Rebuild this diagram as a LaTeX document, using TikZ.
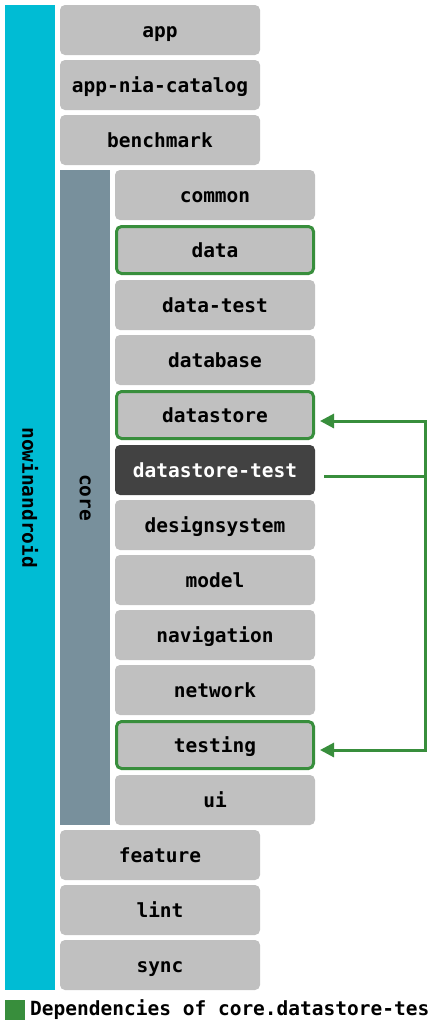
\documentclass[tikz,border=0pt]{standalone}
\usepackage{fontspec}
\setmonofont{DejaVu Sans Mono}
\usetikzlibrary{arrows.meta}
\definecolor{cyanbar}{HTML}{00BCD4}
\definecolor{corebar}{HTML}{78909C}
\definecolor{boxgray}{HTML}{C0C0C0}
\definecolor{darkbox}{HTML}{424242}
\definecolor{depgreen}{HTML}{388E3C}
\begin{document}
\begin{tikzpicture}[x=1pt,y=-1pt,
  every node/.style={font=\ttfamily\bfseries\fontsize{19.5}{20}\selectfont, inner sep=0pt},
  modbox/.style={fill=boxgray, rounded corners=5pt, minimum width=200pt, minimum height=50pt, text=black, text height=15pt, text depth=1pt},
  depbox/.style={modbox, draw=depgreen, line width=3pt, minimum width=197pt, minimum height=47pt},
  selbox/.style={modbox, fill=darkbox, text=white},
  deparrow/.style={draw=depgreen, line width=3pt, -{Triangle[length=14pt,width=14pt]}},
  depline/.style={draw=depgreen, line width=3pt}
]
\useasboundingbox (0,0) rectangle (430,1026);
\fill[white] (0,0) rectangle (430,1026);
% bars
\node[fill=cyanbar, minimum width=50pt, minimum height=985pt, anchor=north west] (nia) at (5,5) {};
\node[rotate=-90] (nialabel) at (nia.center) {nowinandroid};
\node[fill=corebar, minimum width=50pt, minimum height=655pt, anchor=north west] (core) at (60,170) {};
\node[rotate=-90] (corelabel) at (core.center) {core};
% top modules
\node[modbox] (app) at (160,30) {app};
\node[modbox] (catalog) at (160,85) {app-nia-catalog};
\node[modbox] (bench) at (160,140) {benchmark};
% core modules
\node[modbox] (common) at (215,195) {common};
\node[depbox] (data) at (215,250) {data};
\node[modbox] (datatest) at (215,305) {data-test};
\node[modbox] (database) at (215,360) {database};
\node[depbox] (datastore) at (215,415) {datastore};
\node[selbox] (dstest) at (215,470) {datastore-test};
\node[modbox] (design) at (215,525) {designsystem};
\node[modbox] (model) at (215,580) {model};
\node[modbox] (nav) at (215,635) {navigation};
\node[modbox] (network) at (215,690) {network};
\node[depbox] (testing) at (215,745) {testing};
\node[modbox] (ui) at (215,800) {ui};
% bottom modules
\node[modbox] (feature) at (160,855) {feature};
\node[modbox] (lint) at (160,910) {lint};
\node[modbox] (sync) at (160,965) {sync};
% connectors
\coordinate (start) at (324,476);
\coordinate (bend) at (425,476);
\draw[depline] (start) -- (bend);
\draw[deparrow] (bend) |- ([xshift=5pt,yshift=-6pt]datastore.east);
\draw[deparrow] (bend) |- ([xshift=5pt,yshift=-5pt]testing.east);
% legend
\node[fill=depgreen, minimum width=20pt, minimum height=20pt, anchor=north west] (legsq) at (5,1000) {};
\node[anchor=base west] (legtext) at (30,1015) {Dependencies of core.datastore-test};
\end{tikzpicture}
\end{document}
